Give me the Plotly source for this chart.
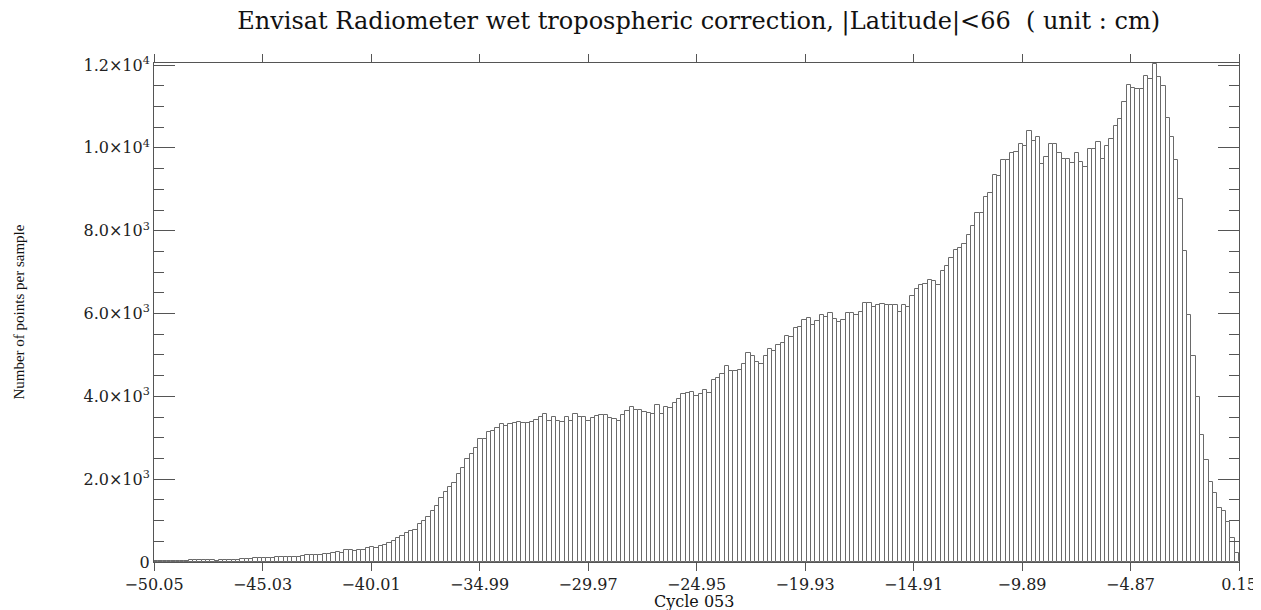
import plotly.graph_objects as go

# histogram bins: 251 bins of 0.2 cm starting at -50.05
bin_start = -50.05
bin_width = 0.2
counts = [
    15, 20, 20, 25, 25, 30, 30, 35, 45, 50,
    40, 45, 50, 40, 35, 40, 45, 55, 60, 55,
    70, 80, 75, 85, 95, 100, 105, 100, 110, 115,
    120, 125, 130, 130, 145, 160, 165, 170, 180, 190,
    200, 216, 235, 224, 280, 296, 264, 296, 296, 328,
    352, 344, 392, 416, 464, 512, 576, 632, 712, 744,
    768, 912, 984, 1080, 1240, 1352, 1544, 1688, 1808, 1896,
    2128, 2272, 2488, 2616, 2752, 2968, 2968, 3136, 3152, 3232,
    3336, 3288, 3336, 3368, 3376, 3352, 3368, 3380, 3439, 3494,
    3575, 3400, 3494, 3400, 3380, 3500, 3400, 3567, 3494, 3510,
    3400, 3470, 3527, 3543, 3543, 3478, 3454, 3400, 3551, 3647,
    3736, 3671, 3671, 3623, 3599, 3575, 3792, 3575, 3736, 3720,
    3840, 3936, 4049, 4081, 4113, 4000, 4057, 4161, 4089, 4394,
    4450, 4550, 4731, 4620, 4620, 4640, 4788, 5045, 4985, 4832,
    4788, 4985, 5141, 5093, 5238, 5278, 5463, 5431, 5648, 5664,
    5849, 5897, 5712, 5808, 5953, 5905, 6017, 5857, 5785, 5841,
    6001, 6001, 5953, 6033, 6258, 6258, 6162, 6202, 6226, 6210,
    6218, 6218, 6041, 6202, 6170, 6419, 6588, 6684, 6708, 6813,
    6797, 6692, 7030, 7143, 7344, 7545, 7577, 7681, 7898, 8107,
    8420, 8420, 8806, 8910, 9352, 9320, 9697, 9697, 9882, 9898,
    10099, 10043, 10404, 10163, 10252, 9609, 9777, 10083, 10083, 9874,
    9729, 9721, 9641, 9874, 9649, 9544, 9970, 9978, 10147, 9721,
    10035, 10204, 10517, 10686, 11104, 11514, 11458, 11434, 11434, 11739,
    11659, 12018, 11715, 11490, 10710, 10252, 9713, 8757, 7520, 5970,
    4982, 3986, 3062, 2475, 1937, 1672, 1310, 1238, 972, 586, 209,
]

x_tickvals = [-50.05, -45.03, -40.01, -34.99, -29.97, -24.95, -19.93, -14.91, -9.89, -4.87, 0.15]
x_ticktext = ["\u221250.05", "\u221245.03", "\u221240.01", "\u221234.99", "\u221229.97", "\u221224.95",
              "\u221219.93", "\u221214.91", "\u22129.89", "\u22124.87", "0.15"]
y_tickvals = [0, 2000, 4000, 6000, 8000, 10000, 12000]
y_ticktext = ["0", "2.0\u00d710<sup>3</sup>", "4.0\u00d710<sup>3</sup>", "6.0\u00d710<sup>3</sup>",
              "8.0\u00d710<sup>3</sup>", "1.0\u00d710<sup>4</sup>", "1.2\u00d710<sup>4</sup>"]

centers = [bin_start + bin_width * (i + 0.5) for i in range(len(counts))]

wide_serif = "DejaVu Serif, serif"
narrow_serif = "Liberation Serif, Times New Roman, serif"
axis_grey = "#555555"

fig = go.Figure()
fig.add_trace(go.Bar(
    x=centers, y=counts, width=bin_width,
    marker=dict(color="white", line=dict(color="#6a6a6a", width=1)),
    showlegend=False,
))

# page body has an 8px margin, so the figure is sized/offset to compensate
fig.update_layout(
    width=1253, height=602,
    paper_bgcolor="white", plot_bgcolor="white",
    margin=dict(l=146, r=22, t=55, b=48, autoexpand=False),
    bargap=0,
    font=dict(family=wide_serif, color="#222222", size=15),
    title=dict(
        text="Envisat Radiometer wet tropospheric correction, |Latitude|<66  ( unit : cm)",
        xref="paper", x=0.502, xanchor="center",
        yref="container", y=1 - 13 / 602, yanchor="middle",
        font=dict(family=wide_serif, size=24, color="#111111"),
    ),
    xaxis=dict(
        range=[-50.05, 0.15], tickvals=x_tickvals, ticktext=x_ticktext,
        ticks="outside", ticklen=8, tickcolor=axis_grey,
        showline=True, linecolor=axis_grey, linewidth=1, mirror="allticks",
        showgrid=False, zeroline=False, automargin=False,
        tickfont=dict(family=wide_serif, size=16),
    ),
    yaxis=dict(
        range=[0, 12050], tickvals=y_tickvals, ticktext=y_ticktext,
        ticks="inside", ticklen=21, tickcolor=axis_grey,
        minor=dict(ticks="inside", ticklen=10, dtick=500, tickcolor=axis_grey, showgrid=False),
        showline=True, linecolor=axis_grey, linewidth=1, mirror="allticks",
        showgrid=False, zeroline=False, automargin=False,
        tickfont=dict(family=wide_serif, size=16),
    ),
    annotations=[
        dict(
            text="Number of points per sample", textangle=-90,
            xref="paper", yref="paper", x=-0.1253, y=0.5,
            xanchor="center", yanchor="middle", showarrow=False,
            font=dict(family=narrow_serif, size=15, color="#111111"),
        ),
        dict(
            text="Cycle 053",
            xref="paper", yref="paper", x=0.498, y=-0.079,
            xanchor="center", yanchor="middle", showarrow=False,
            font=dict(family=wide_serif, size=16, color="#111111"),
        ),
    ],
)

fig.write_html("out.html")
